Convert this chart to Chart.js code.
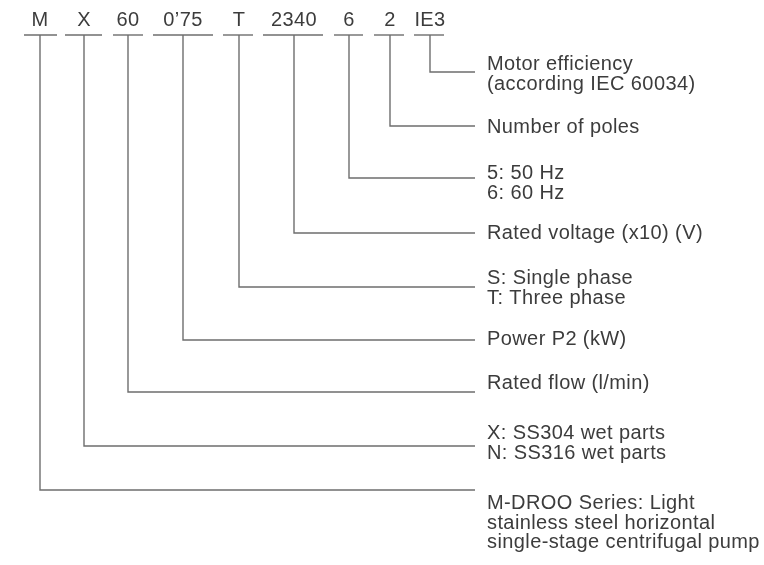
<!DOCTYPE html>
<html lang="en">
<head>
    <meta charset="UTF-8">
    <script src="https://cdn.jsdelivr.net/npm/chart.js"></script>
    <title>Type designation</title>
    <style>
        html, body { margin: 0; padding: 0; background: #fff; }
        #wrap { width: 764px; height: 565px; position: relative; }
    </style>
</head>
<body>
<div id="wrap"><canvas id="keyChart"></canvas></div>
<script>
    // code segments of the type designation, left to right
    const codes = ["M", "X", "60", "0’75", "T", "2340", "6", "2", "IE3"];
    const codeX = [40, 84, 128, 183, 239, 294, 349, 390, 430];
    const underlineFrom = [24, 65, 113, 153, 223, 263, 334, 374, 414];
    const underlineTo = [57, 102, 143, 213, 253, 323, 363, 404, 444];
    // level of each leader line
    const leaderY = [490, 446, 392, 340, 287, 233, 178, 126, 72];
    const descriptions = [
        ["M-DROO Series: Light", "stainless steel horizontal", "single-stage centrifugal pump"],
        ["X: SS304 wet parts", "N: SS316 wet parts"],
        ["Rated flow (l/min)"],
        ["Power P2 (kW)"],
        ["S: Single phase", "T: Three phase"],
        ["Rated voltage (x10) (V)"],
        ["5: 50 Hz", "6: 60 Hz"],
        ["Number of poles"],
        ["Motor efficiency", "(according IEC 60034)"]
    ];
    // where the first text line sits (cap centre)
    const textY = [502, 432, 382, 338, 277, 232, 172, 126, 63];

    const LINE_END = 475, TEXT_X = 487, TOP_Y = 35, CODE_Y = 18.5;
    const lineColor = "#6e6e6e";
    const textColor = "#3c3c3c";
    const fontSize = 20;

    const datasets = [];
    codes.forEach((c, i) => {
        datasets.push({
            data: [{x: underlineFrom[i], y: TOP_Y}, {x: underlineTo[i], y: TOP_Y}],
            borderColor: lineColor, borderWidth: 1.4, pointRadius: 0, showLine: true, tension: 0
        });
        datasets.push({
            data: [{x: codeX[i], y: TOP_Y}, {x: codeX[i], y: leaderY[i]}, {x: LINE_END, y: leaderY[i]}],
            borderColor: lineColor, borderWidth: 1.4, pointRadius: 0, showLine: true, tension: 0,
            borderJoinStyle: "miter"
        });
    });

    const labelsPlugin = {
        id: "labels",
        afterDatasetsDraw(chart) {
            const {ctx, scales: {x, y}} = chart;
            ctx.save();
            ctx.fillStyle = textColor;
            ctx.font = fontSize + "px 'Liberation Sans', Arial, sans-serif";
            ctx.letterSpacing = "0.4px";
            ctx.textBaseline = "alphabetic";
            const capHalf = fontSize * 0.716 / 2;
            ctx.textAlign = "center";
            codes.forEach((c, i) => {
                ctx.fillText(c, x.getPixelForValue(codeX[i]), y.getPixelForValue(CODE_Y) + capHalf);
            });
            ctx.textAlign = "left";
            descriptions.forEach((lines, i) => {
                lines.forEach((t, j) => {
                    ctx.fillText(t, x.getPixelForValue(TEXT_X), y.getPixelForValue(textY[i] + j * 19.5) + capHalf);
                });
            });
            ctx.restore();
        }
    };

    new Chart(document.getElementById("keyChart"), {
        type: "scatter",
        data: {datasets},
        options: {
            responsive: true,
            maintainAspectRatio: false,
            animation: false,
            layout: {padding: 0},
            plugins: {legend: {display: false}, tooltip: {enabled: false}},
            scales: {
                x: {type: "linear", min: 0, max: 764, display: false},
                y: {type: "linear", min: 0, max: 565, reverse: true, display: false}
            }
        },
        plugins: [labelsPlugin]
    });
</script>
</body>
</html>
